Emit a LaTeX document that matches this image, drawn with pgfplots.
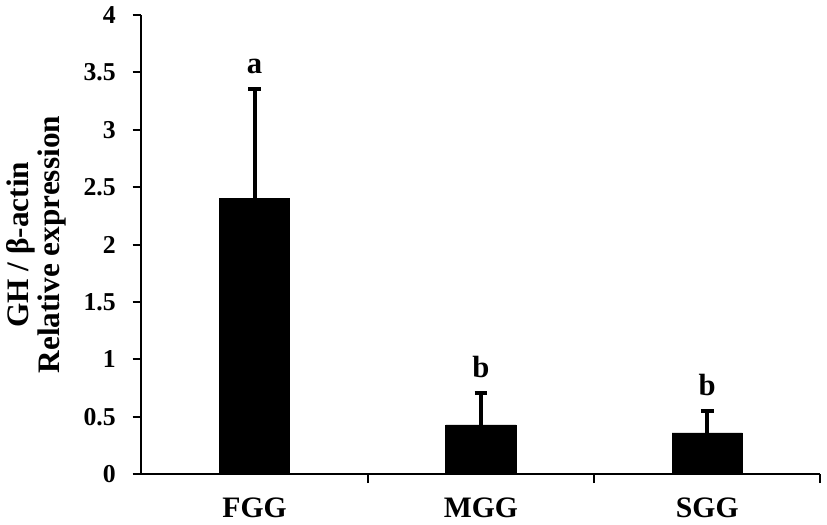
\documentclass[border=0pt]{standalone}
\usepackage{fontspec}
\setmainfont{Liberation Serif}
\usepackage{pgfplots}
\pgfplotsset{compat=1.18}
\begin{document}
\begin{tikzpicture}
\begin{axis}[
  width=343pt, height=232pt, scale only axis,
  xmin=-0.5, xmax=2.5, ymin=0, ymax=4,
  axis lines*=left,
  axis line style={line width=1pt},
  every tick/.style={line width=1pt, black},
  tick align=outside,
  major tick length=4.5pt,
  ytick={0,0.5,...,4},
  yticklabel style={font=\fontsize{13}{14}\selectfont\bfseries, xshift=-5pt},
  /pgf/number format/assume math mode=true,
  xtick={0.5,1.5,2.5},
  xticklabels={},
  extra x ticks={0,1,2},
  extra x tick labels={FGG,MGG,SGG},
  extra x tick style={major tick length=0pt,
    xticklabel style={font=\fontsize{15}{16}\selectfont\bfseries, yshift=-8.5pt}},
  ylabel={GH / β-actin\\Relative expression},
  ylabel style={align=center, font=\fontsize{15.8}{15.5}\selectfont\bfseries, yshift=2pt},
  clip=false,
]
\addplot[ybar, bar width=0.31, fill=black, draw=black,
  error bars/.cd, y dir=plus, y explicit,
  error bar style={line width=2pt},
  error mark options={rotate=90, mark size=3.25pt, line width=2pt}]
  coordinates {(0,2.40) +- (0,0.96) (1,0.43) +- (0,0.28) (2,0.36) +- (0,0.19)};
\addplot[draw=none, mark=none, nodes near coords, point meta=explicit symbolic,
  every node near coord/.append style={font=\fontsize{15.5}{16}\selectfont\bfseries, anchor=south, yshift=4pt}]
  coordinates {(0,3.36) [a] (1,0.71) [b] (2,0.55) [b]};
\end{axis}
\end{tikzpicture}
\end{document}
